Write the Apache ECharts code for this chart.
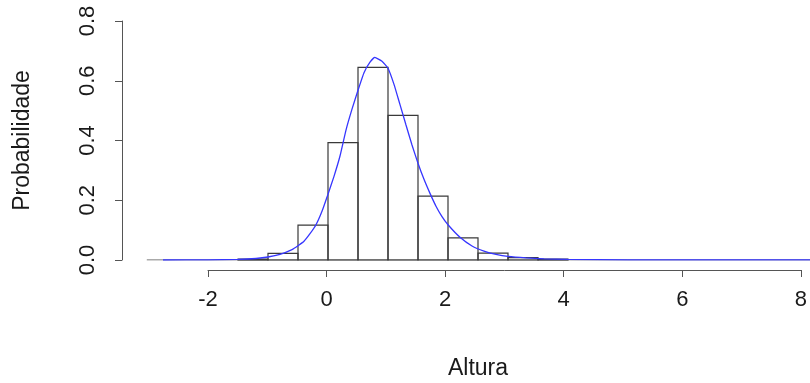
<!DOCTYPE html>
<html>
<head>
<meta charset="utf-8">
<script src="https://cdn.jsdelivr.net/npm/echarts@6/dist/echarts.min.js"></script>
<style>html,body{margin:0;padding:0;background:#fff;}#c{width:810px;height:383px;}</style>
</head>
<body>
<div id="c"></div>
<script>
// Histogram bins (left edge, right edge) and densities
var binStarts = [-1.5, -1.0, -0.5, 0.0, 0.5, 1.0, 1.5, 2.0, 2.5, 3.0, 3.5];
var binEnds   = [-1.0, -0.5, 0.0, 0.5, 1.0, 1.5, 2.0, 2.5, 3.0, 3.5, 4.0];
var binDensity = [0.003, 0.022, 0.117, 0.393, 0.645, 0.484, 0.214, 0.074, 0.023, 0.008, 0.003];

// Density curve
var densX = [-2.75, -2.0, -1.5, -1.2, -1.0, -0.8, -0.6, -0.5, -0.4, -0.3, -0.2, -0.1, 0.0, 0.1, 0.2, 0.3, 0.4, 0.5, 0.6, 0.7, 0.78, 0.9, 1.0, 1.1, 1.2, 1.3, 1.4, 1.5, 1.6, 1.7, 1.8, 1.9, 2.0, 2.2, 2.4, 2.6, 2.8, 3.0, 3.3, 3.6, 4.0, 5.0, 6.0, 7.0, 8.0, 9.0];
var densY = [0.0, 0.0005, 0.002, 0.005, 0.010, 0.019, 0.035, 0.048, 0.063, 0.088, 0.118, 0.163, 0.220, 0.280, 0.348, 0.435, 0.505, 0.568, 0.627, 0.662, 0.678, 0.665, 0.642, 0.588, 0.520, 0.452, 0.385, 0.324, 0.270, 0.223, 0.180, 0.145, 0.118, 0.076, 0.047, 0.030, 0.019, 0.012, 0.007, 0.004, 0.002, 0.0005, 0.0003, 0.0002, 0.0001, 0.0001];

// Zero reference line extent
var zeroLineX = [-3.02, 10];

var xTicks = [-2, 0, 2, 4, 6, 8];
var yTicks = [0.0, 0.2, 0.4, 0.6, 0.8];
var xLabel = 'Altura';
var yLabel = 'Probabilidade';

var histData = binStarts.map(function (s, i) { return [s, binEnds[i], binDensity[i]]; });
var densData = densX.map(function (x, i) { return [x, densY[i]]; });
var zeroData = zeroLineX.map(function (x) { return [x, 0]; });

var FONT = '"Liberation Sans", Arial, sans-serif';
var FS = 22;
var FS_LAB = 23;
var AX = '#555';
var TXT = '#1a1a1a';
var X_MIN = -3.4333;
var X_MAX = X_MIN + 688 / 60; // data grid spans to the right edge of the picture

var chart = echarts.init(document.getElementById('c'), null, {renderer: 'canvas'});
chart.setOption({
  animation: false,
  backgroundColor: '#fff',
  grid: [
    // data area (R plot region)
    {left: 122, top: 21, right: 0, height: 239},
    // x axis carrier
    {left: 208, top: 269, width: 600, height: 1},
    // y axis carrier
    {left: 122, top: 21, width: 1, height: 239}
  ],
  xAxis: [
    {gridIndex: 0, type: 'value', min: X_MIN, max: X_MAX, show: false, scale: true},
    {
      gridIndex: 1, type: 'value', min: xTicks[0], max: xTicks[xTicks.length - 1], interval: 2,
      position: 'bottom',
      axisLine: {show: true, onZero: false, lineStyle: {color: AX, width: 1}},
      axisTick: {show: true, length: 7, lineStyle: {color: AX}},
      axisLabel: {color: TXT, fontFamily: FONT, fontSize: FS, margin: 19,
        formatter: function (v) { return String(v); }},
      splitLine: {show: false}
    },
    {gridIndex: 2, type: 'value', min: 0, max: 1, show: false}
  ],
  yAxis: [
    {gridIndex: 0, type: 'value', min: 0, max: 0.8, show: false},
    {gridIndex: 1, type: 'value', min: 0, max: 1, show: false},
    {
      gridIndex: 2, type: 'value', min: yTicks[0], max: yTicks[yTicks.length - 1], interval: 0.2,
      position: 'left',
      axisLine: {show: true, onZero: false, lineStyle: {color: AX, width: 1}},
      axisTick: {show: true, length: 7, lineStyle: {color: AX}},
      axisLabel: {color: TXT, fontFamily: FONT, fontSize: FS, margin: 23, rotate: 90,
        formatter: function (v) { return v.toFixed(1); }},
      splitLine: {show: false}
    }
  ],
  graphic: [
    {type: 'text', x: 478, y: 369, style: {text: xLabel, align: 'center', verticalAlign: 'middle', fill: TXT, font: FS_LAB + 'px ' + FONT}},
    {type: 'text', x: 23, y: 140.5, rotation: Math.PI / 2, style: {text: yLabel, align: 'center', verticalAlign: 'middle', fill: TXT, font: FS_LAB + 'px ' + FONT}}
  ],
  series: [
    {
      type: 'line', xAxisIndex: 0, yAxisIndex: 0, data: zeroData, symbol: 'none', silent: true,
      lineStyle: {color: AX, width: 1}, z: 1
    },
    {
      type: 'custom', xAxisIndex: 0, yAxisIndex: 0, z: 2,
      renderItem: function (params, api) {
        var p0 = api.coord([api.value(0), 0]);
        var p1 = api.coord([api.value(1), api.value(2)]);
        return {
          type: 'rect',
          shape: {x: p0[0], y: p1[1], width: p1[0] - p0[0], height: p0[1] - p1[1]},
          style: {fill: 'rgba(255,255,255,0)', stroke: '#3a3a3a', lineWidth: 1.2}
        };
      },
      encode: {x: [0, 1], y: 2},
      data: histData
    },
    {
      type: 'line', xAxisIndex: 0, yAxisIndex: 0, data: densData, symbol: 'none', smooth: 0.15,
      lineStyle: {color: '#3636ff', width: 1.3}, z: 3
    }
  ]
});
</script>
</body>
</html>
